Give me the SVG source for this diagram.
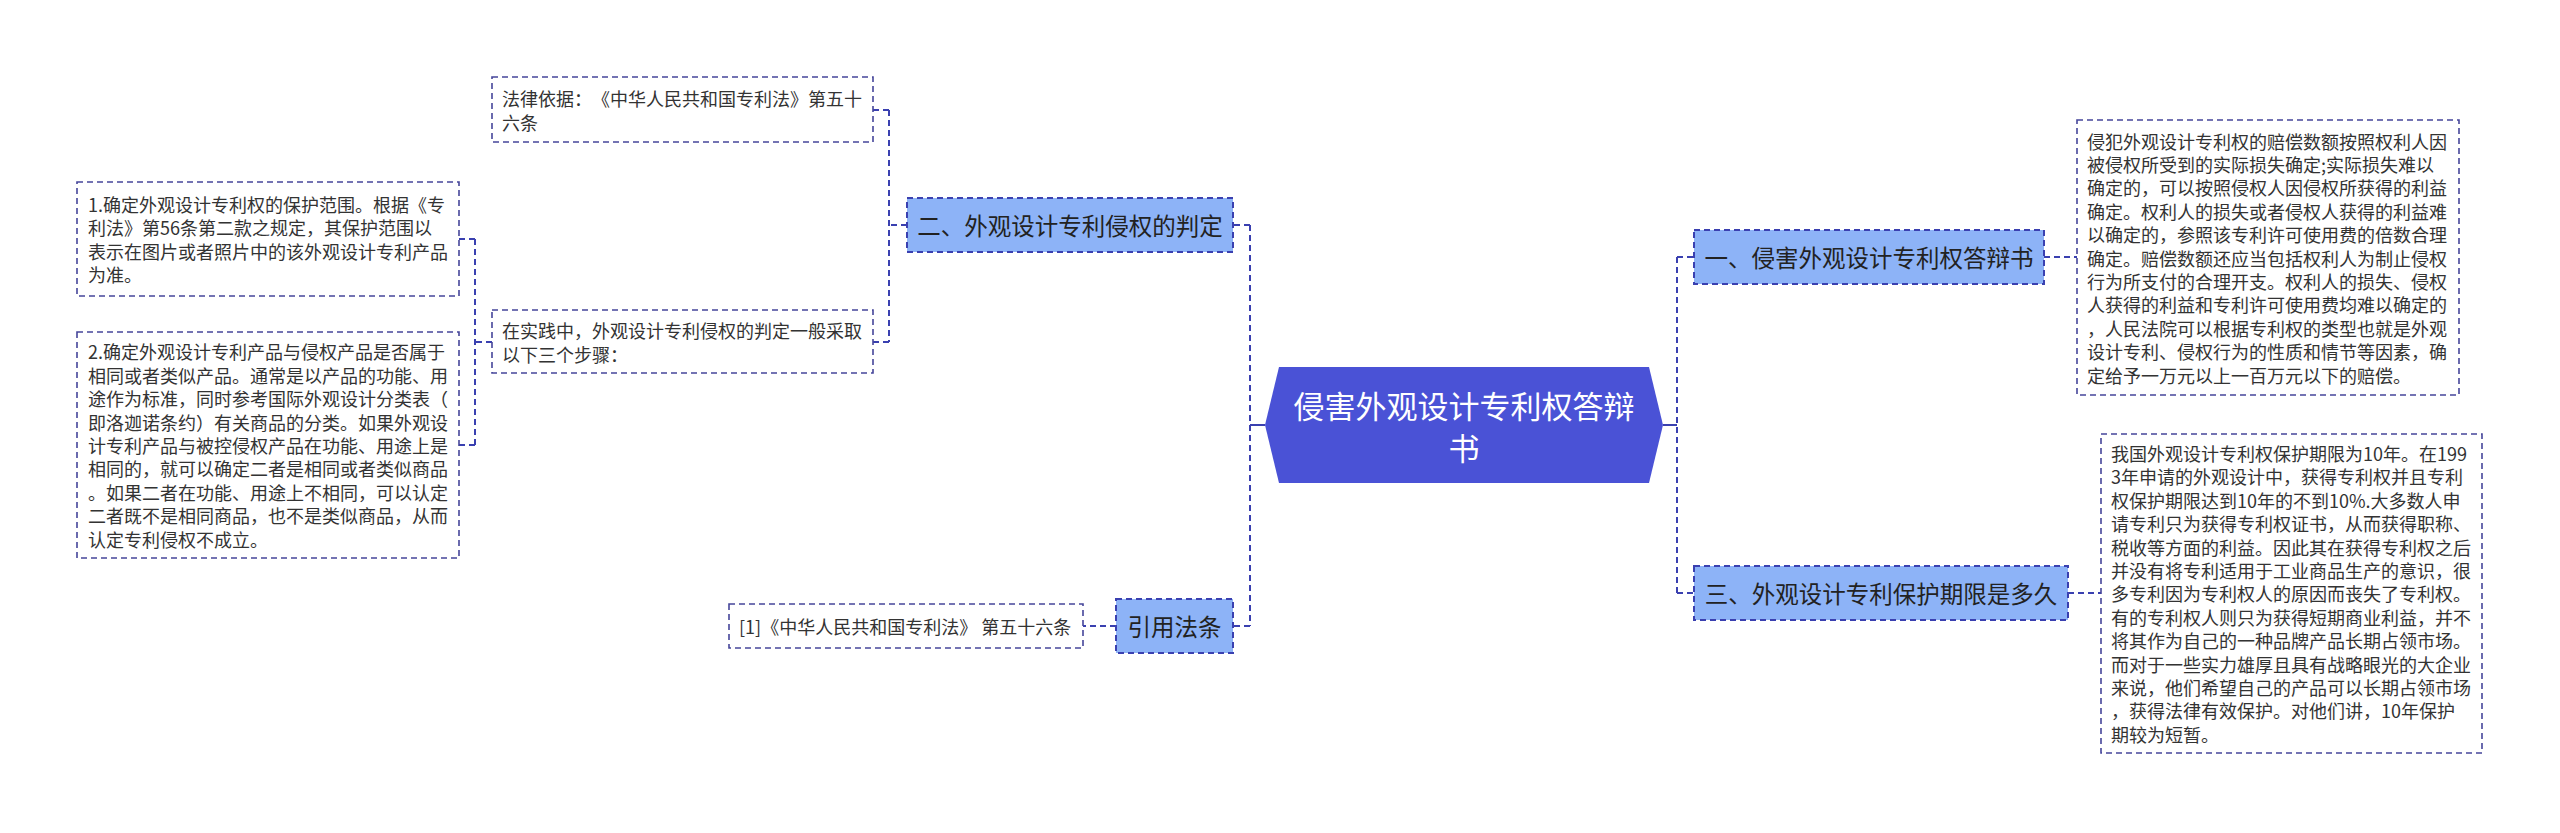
<svg xmlns="http://www.w3.org/2000/svg" width="2560" height="833" viewBox="0 0 2560 833">
<style>
text{font-family:"Noto Sans CJK SC","Noto Sans",sans-serif;dominant-baseline:central;text-spacing-trim:space-all}
.leaf rect{fill:#fff;stroke:#45459a;stroke-width:1.6;stroke-dasharray:6 4}
.leaf text{font-size:18px;fill:#333}
.branch rect{fill:#8db3f7;stroke:#3a40b0;stroke-width:2;stroke-dasharray:6 4}
.branch text{font-size:23.5px;fill:#222;text-anchor:middle}
.conn path{fill:none;stroke:#3a40b0;stroke-width:2;stroke-dasharray:6 4}
.conn path.solid{stroke-dasharray:none}
</style>
<rect width="2560" height="833" fill="#fff"/>
<g id="connectors" class="conn">
<path class="solid" d="M1265 425H1250M1663 425H1677"/>
<path d="M1250 225V626M1250 225H1233M1250 626H1233"/>
<path d="M907 225H889M889 110V342M889 110H873M889 342H873"/>
<path d="M492 342H475M475 239V445M475 239H459M475 445H459"/>
<path d="M1116 626H1083"/>
<path d="M1677 257V593M1677 257H1694M1677 593H1694"/>
<path d="M2044 257H2077M2068 593H2101"/>
</g>
<g id="center">
<polygon points="1279,367 1649,367 1663,425 1649,483 1279,483 1265,425" fill="#4a52d6"/>
<text x="1464" y="404" font-size="31" fill="#fff" text-anchor="middle">侵害外观设计专利权答辩</text>
<text x="1464" y="446" font-size="31" fill="#fff" text-anchor="middle">书</text>
</g>
<g id="b2" class="branch">
<rect x="907" y="198" width="326" height="54"/>
<text x="1070" y="225">二、外观设计专利侵权的判定</text>
</g>
<g id="b_cite" class="branch">
<rect x="1116" y="599" width="117" height="54"/>
<text x="1174.5" y="626">引用法条</text>
</g>
<g id="b1" class="branch">
<rect x="1694" y="230" width="350" height="54"/>
<text x="1869" y="257">一、侵害外观设计专利权答辩书</text>
</g>
<g id="b3" class="branch">
<rect x="1694" y="566" width="374" height="54"/>
<text x="1881" y="593">三、外观设计专利保护期限是多久</text>
</g>
<g id="leaf_law" class="leaf">
<rect x="492" y="77" width="381" height="65"/>
<text x="502" y="98">法律依据：《中华人民共和国专利法》第五十</text>
<text x="502" y="121.5">六条</text>
</g>
<g id="leaf_practice" class="leaf">
<rect x="492" y="310" width="381" height="63"/>
<text x="502" y="330">在实践中，外观设计专利侵权的判定一般采取</text>
<text x="502" y="353.5">以下三个步骤：</text>
</g>
<g id="leaf_step1" class="leaf">
<rect x="77" y="182" width="382" height="114"/>
<text x="88" y="204">1.确定外观设计专利权的保护范围。根据《专</text>
<text x="88" y="227.4">利法》第56条第二款之规定，其保护范围以</text>
<text x="88" y="250.8">表示在图片或者照片中的该外观设计专利产品</text>
<text x="88" y="274.2">为准。</text>
</g>
<g id="leaf_step2" class="leaf">
<rect x="77" y="332" width="382" height="226"/>
<text x="88" y="351.4">2.确定外观设计专利产品与侵权产品是否属于</text>
<text x="88" y="374.8">相同或者类似产品。通常是以产品的功能、用</text>
<text x="88" y="398.2">途作为标准，同时参考国际外观设计分类表（</text>
<text x="88" y="421.6">即洛迦诺条约）有关商品的分类。如果外观设</text>
<text x="88" y="445">计专利产品与被控侵权产品在功能、用途上是</text>
<text x="88" y="468.4">相同的，就可以确定二者是相同或者类似商品</text>
<text x="88" y="491.8">。如果二者在功能、用途上不相同，可以认定</text>
<text x="88" y="515.2">二者既不是相同商品，也不是类似商品，从而</text>
<text x="88" y="538.6">认定专利侵权不成立。</text>
</g>
<g id="leaf_cite" class="leaf">
<rect x="729" y="604" width="354" height="44"/>
<text x="739" y="626">[1]《中华人民共和国专利法》 第五十六条</text>
</g>
<g id="leaf_comp" class="leaf">
<rect x="2077" y="120" width="382" height="275"/>
<text x="2087" y="140.5">侵犯外观设计专利权的赔偿数额按照权利人因</text>
<text x="2087" y="163.9">被侵权所受到的实际损失确定;实际损失难以</text>
<text x="2087" y="187.3">确定的，可以按照侵权人因侵权所获得的利益</text>
<text x="2087" y="210.7">确定。权利人的损失或者侵权人获得的利益难</text>
<text x="2087" y="234.1">以确定的，参照该专利许可使用费的倍数合理</text>
<text x="2087" y="257.5">确定。赔偿数额还应当包括权利人为制止侵权</text>
<text x="2087" y="280.9">行为所支付的合理开支。权利人的损失、侵权</text>
<text x="2087" y="304.3">人获得的利益和专利许可使用费均难以确定的</text>
<text x="2087" y="327.7">，人民法院可以根据专利权的类型也就是外观</text>
<text x="2087" y="351.1">设计专利、侵权行为的性质和情节等因素，确</text>
<text x="2087" y="374.5">定给予一万元以上一百万元以下的赔偿。</text>
</g>
<g id="leaf_term" class="leaf">
<rect x="2101" y="434" width="381" height="319"/>
<text x="2111" y="453">我国外观设计专利权保护期限为10年。在199</text>
<text x="2111" y="476.4">3年申请的外观设计中，获得专利权并且专利</text>
<text x="2111" y="499.8">权保护期限达到10年的不到10%.大多数人申</text>
<text x="2111" y="523.2">请专利只为获得专利权证书，从而获得职称、</text>
<text x="2111" y="546.6">税收等方面的利益。因此其在获得专利权之后</text>
<text x="2111" y="570">并没有将专利适用于工业商品生产的意识，很</text>
<text x="2111" y="593.4">多专利因为专利权人的原因而丧失了专利权。</text>
<text x="2111" y="616.8">有的专利权人则只为获得短期商业利益，并不</text>
<text x="2111" y="640.2">将其作为自己的一种品牌产品长期占领市场。</text>
<text x="2111" y="663.6">而对于一些实力雄厚且具有战略眼光的大企业</text>
<text x="2111" y="687">来说，他们希望自己的产品可以长期占领市场</text>
<text x="2111" y="710.4">，获得法律有效保护。对他们讲，10年保护</text>
<text x="2111" y="733.8">期较为短暂。</text>
</g>
</svg>
